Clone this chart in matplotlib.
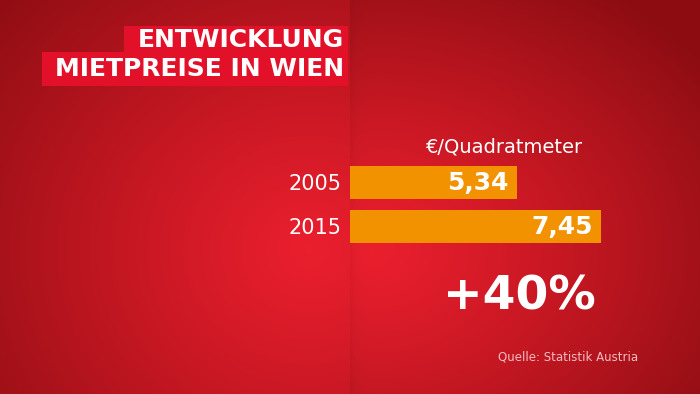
import numpy as np
import matplotlib
matplotlib.use("Agg")
import matplotlib.pyplot as plt
from matplotlib.patches import Rectangle

plt.rcParams['font.family'] = ['DejaVu Sans']

# data
years = ['2005', '2015']
prices = [5.34, 7.45]
price_labels = ['5,34', '7,45']
unit_label = '€/Quadratmeter'
change_label = '+40%'
title_lines = ['ENTWICKLUNG', 'MIETPREISE IN WIEN']
source = 'Quelle: Statistik Austria'

W, H = 700, 394
fig = plt.figure(figsize=(7, 3.94), dpi=100)

# background gradient
bright = np.array([0.92, 0.12, 0.18])
dark = np.array([0.55, 0.05, 0.07])
yy, xx = np.mgrid[0:H, 0:W] + 0.5
# left panel
d = np.sqrt((xx - 310) ** 2 + ((yy - 250) / 0.9) ** 2)
tl = np.clip(d / 430, 0, 1) ** 1.1
# right panel
d2 = np.sqrt((xx - 370) ** 2 + ((yy - 250) / 0.75) ** 2)
tr = np.clip(d2 / 420, 0, 1) ** 1.2
t = np.where(xx < 350, tl, tr)
img = bright * (1 - t[..., None]) + dark * t[..., None]
shade = np.where(xx >= 350, 1 - 0.06 * np.exp(-(xx - 350) / 6), 1.0)
img = img * shade[..., None]

bg = fig.add_axes([0, 0, 1, 1])
bg.imshow(img, extent=(0, W, H, 0), aspect='auto', interpolation='bilinear')
bg.set_xlim(0, W)
bg.set_ylim(H, 0)
bg.axis('off')

# title boxes
box_col = '#e3102a'
bg.add_patch(Rectangle((124, 26), 224, 27, color=box_col, lw=0))
bg.add_patch(Rectangle((42, 52), 306, 34, color=box_col, lw=0))
bg.text(344, 40, title_lines[0], color='white', fontsize=18, fontweight='bold',
        ha='right', va='center')
bg.text(344, 69, title_lines[1], color='white', fontsize=18, fontweight='bold',
        ha='right', va='center')

# bars
ax = fig.add_axes([0.5, 1 - 248.5 / H, 0.5, 88 / H])
ax.patch.set_alpha(0)
pos = np.arange(len(years))
ax.barh(pos, prices, height=0.73, color='#f39200')
ax.set_xlim(1.14, 9.93)
ax.set_ylim(1.5, -0.5)
ax.set_yticks(pos)
ax.set_yticklabels(years, color='white', fontsize=15)
ax.tick_params(axis='y', length=0, pad=6)
ax.set_xticks([])
for s in ax.spines.values():
    s.set_visible(False)
for p, v, lab in zip(pos, prices, price_labels):
    ax.text(v - 0.22, p, lab, color='white', fontsize=18, fontweight='bold',
            ha='right', va='center')

bg.text(505, 147, unit_label, color='white', fontsize=14, ha='center', va='center')
bg.text(519, 297, change_label, color='white', fontsize=34, fontweight='bold',
        ha='center', va='center')
bg.text(568, 357, source, color='#f3bcc0', fontsize=8.5, ha='center', va='center')

fig.savefig('out.png', dpi=100)
